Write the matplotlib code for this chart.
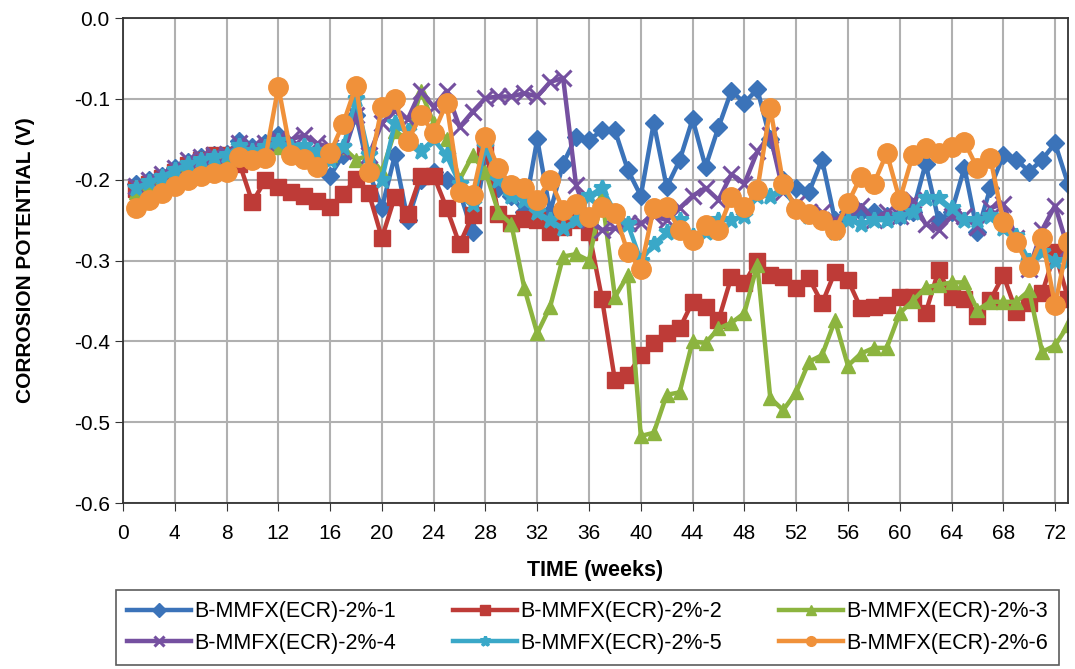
import numpy as np
import matplotlib
matplotlib.use("Agg")
import matplotlib.pyplot as plt

plt.rcParams['font.family'] = ['Liberation Sans', 'DejaVu Sans']

weeks = list(range(1, 74))

# corrosion potential (V) per specimen
s1 = [-0.205, -0.200, -0.195, -0.185, -0.178, -0.172, -0.170, -0.168, -0.152, -0.160,
      -0.155, -0.145, -0.158, -0.165, -0.180, -0.195, -0.170, -0.120, -0.190, -0.235,
      -0.170, -0.250, -0.200, -0.190, -0.200, -0.215, -0.265, -0.170, -0.210, -0.220,
      -0.240, -0.150, -0.240, -0.180, -0.147, -0.151, -0.139, -0.139, -0.188, -0.220,
      -0.130, -0.209, -0.176, -0.125, -0.184, -0.135, -0.090, -0.105, -0.088, -0.150,
      -0.200, -0.210, -0.215, -0.175, -0.250, -0.240, -0.240, -0.240, -0.245, -0.245,
      -0.240, -0.180, -0.250, -0.240, -0.185, -0.265, -0.210, -0.170, -0.175, -0.190,
      -0.175, -0.155, -0.205]
s2 = [-0.212, -0.205, -0.198, -0.190, -0.182, -0.175, -0.170, -0.170, -0.180, -0.228,
      -0.200, -0.209, -0.215, -0.220, -0.226, -0.234, -0.218, -0.199, -0.217, -0.272,
      -0.221, -0.242, -0.195, -0.195, -0.235, -0.280, -0.244, -0.160, -0.242, -0.254,
      -0.248, -0.250, -0.265, -0.258, -0.250, -0.265, -0.347, -0.448, -0.442, -0.417,
      -0.402, -0.390, -0.384, -0.351, -0.357, -0.374, -0.320, -0.328, -0.300, -0.318,
      -0.320, -0.334, -0.322, -0.353, -0.314, -0.324, -0.359, -0.357, -0.355, -0.345,
      -0.345, -0.365, -0.312, -0.345, -0.347, -0.368, -0.349, -0.318, -0.363, -0.352,
      -0.340, -0.290, -0.347]
s3 = [-0.215, -0.207, -0.200, -0.190, -0.182, -0.178, -0.175, -0.172, -0.165, -0.170,
      -0.165, -0.160, -0.165, -0.165, -0.170, -0.170, -0.160, -0.175, -0.170, -0.190,
      -0.140, -0.150, -0.090, -0.130, -0.150, -0.200, -0.170, -0.190, -0.240, -0.255,
      -0.334, -0.390, -0.357, -0.295, -0.292, -0.300, -0.220, -0.345, -0.318, -0.517,
      -0.513, -0.466, -0.463, -0.400, -0.402, -0.384, -0.377, -0.365, -0.305, -0.470,
      -0.485, -0.463, -0.425, -0.417, -0.374, -0.430, -0.415, -0.408, -0.408, -0.365,
      -0.350, -0.333, -0.330, -0.327, -0.327, -0.361, -0.351, -0.351, -0.351, -0.337,
      -0.413, -0.405, -0.380]
s4 = [-0.208, -0.200, -0.193, -0.185, -0.176, -0.172, -0.170, -0.168, -0.155, -0.160,
      -0.155, -0.150, -0.150, -0.145, -0.155, -0.160, -0.165, -0.120, -0.170, -0.130,
      -0.115, -0.125, -0.090, -0.110, -0.090, -0.135, -0.116, -0.099, -0.097, -0.097,
      -0.093, -0.097, -0.079, -0.074, -0.207, -0.250, -0.262, -0.260, -0.254, -0.254,
      -0.245, -0.250, -0.235, -0.220, -0.210, -0.225, -0.193, -0.205, -0.165, -0.145,
      -0.215, -0.230, -0.240, -0.240, -0.250, -0.240, -0.232, -0.250, -0.240, -0.245,
      -0.225, -0.255, -0.262, -0.245, -0.245, -0.258, -0.235, -0.230, -0.272, -0.310,
      -0.262, -0.232, -0.285]
s5 = [-0.210, -0.203, -0.196, -0.188, -0.180, -0.175, -0.172, -0.170, -0.158, -0.165,
      -0.160, -0.152, -0.160, -0.158, -0.165, -0.175, -0.160, -0.100, -0.170, -0.200,
      -0.130, -0.140, -0.165, -0.150, -0.170, -0.205, -0.230, -0.160, -0.200, -0.220,
      -0.225, -0.240, -0.250, -0.260, -0.250, -0.220, -0.210, -0.240, -0.255, -0.300,
      -0.280, -0.265, -0.250, -0.270, -0.265, -0.250, -0.250, -0.245, -0.220, -0.220,
      -0.210, -0.235, -0.245, -0.250, -0.265, -0.250, -0.255, -0.250, -0.250, -0.245,
      -0.240, -0.222, -0.222, -0.235, -0.250, -0.250, -0.245, -0.260, -0.270, -0.300,
      -0.290, -0.300, -0.300]
s6 = [-0.235, -0.225, -0.217, -0.208, -0.200, -0.195, -0.192, -0.190, -0.172, -0.176,
      -0.173, -0.085, -0.170, -0.174, -0.184, -0.167, -0.131, -0.084, -0.190, -0.110,
      -0.100, -0.152, -0.120, -0.142, -0.105, -0.215, -0.219, -0.147, -0.186, -0.207,
      -0.210, -0.225, -0.200, -0.237, -0.230, -0.246, -0.234, -0.241, -0.290, -0.310,
      -0.235, -0.234, -0.262, -0.275, -0.256, -0.262, -0.221, -0.234, -0.213, -0.111,
      -0.205, -0.236, -0.242, -0.250, -0.262, -0.229, -0.196, -0.205, -0.167, -0.225,
      -0.170, -0.161, -0.167, -0.160, -0.153, -0.186, -0.173, -0.252, -0.277, -0.308,
      -0.272, -0.355, -0.277]

labels = ['B-MMFX(ECR)-2%-1', 'B-MMFX(ECR)-2%-2', 'B-MMFX(ECR)-2%-3',
          'B-MMFX(ECR)-2%-4', 'B-MMFX(ECR)-2%-5', 'B-MMFX(ECR)-2%-6']
colors = ['#3b73b9', '#be3b37', '#8cb43f', '#7550a0', '#3aa8c8', '#f0913a']
markers = ['D', 's', '^', 'x', '*', 'o']
msizes = [9, 12, 10, 11, 12, 14]

yticks = np.round(np.arange(-0.6, 0.01, 0.1), 1)
ytick_labels = ['%.1f' % abs(v) if v == 0 else '%.1f' % v for v in yticks]

fig = plt.figure(figsize=(10.75, 6.69), dpi=100)
ax = fig.add_axes([0.1144, 0.248, 0.8791, 0.725])

lines = []
for ys, lab, c, m, ms in zip([s1, s2, s3, s4, s5, s6], labels, colors, markers, msizes):
    ln, = ax.plot(weeks, ys, color=c, marker=m, markersize=ms, linewidth=3.2,
                  markeredgewidth=2.2 if m in ('x', '*') else 1, markeredgecolor=c,
                  label=lab)
    lines.append(ln)

ax.set_xlim(0, 73)
ax.set_ylim(-0.6, 0.0)
ax.set_xticks(np.arange(0, 73, 4))
ax.set_yticks(yticks)
ax.set_yticklabels(ytick_labels)
ax.tick_params(labelsize=15, direction='out', length=6, color='#333333')
ax.tick_params(axis='x', pad=9)
ax.grid(True, color='#b0b0b0', linewidth=1.5)
ax.set_axisbelow(True)
for sp in ax.spines.values():
    sp.set_color('#333333')
    sp.set_linewidth(1.3)

ax.set_xlabel('TIME (weeks)', fontsize=15.5, fontweight='bold', labelpad=12)
ax.set_ylabel('CORROSION POTENTIAL (V)', fontsize=15, fontweight='bold', labelpad=28)

# row-wise legend order like the original (1 2 3 / 4 5 6)
order = [0, 3, 1, 4, 2, 5]
leg = fig.legend([lines[i] for i in order], [labels[i] for i in order],
                 loc='center', ncol=3, fontsize=15.5, handlelength=3.0,
                 bbox_to_anchor=(0.098, 0.003, 0.897, 0.118), mode='expand',
                 frameon=True, fancybox=False, borderpad=0.5, columnspacing=1.0,
                 handletextpad=0.15, labelspacing=0.5)
leg.get_frame().set_edgecolor('#333333')
leg.get_frame().set_linewidth(1.2)
for h in leg.legend_handles:
    h.set_markersize(7)

fig.savefig('out.png', dpi=100)
